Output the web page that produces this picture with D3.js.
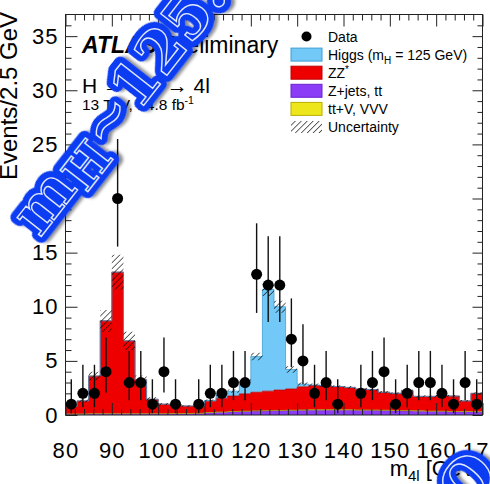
<!DOCTYPE html>
<html><head><meta charset="utf-8">
<script src="https://cdn.jsdelivr.net/npm/d3@7/dist/d3.min.js"></script>
<style>body{margin:0;background:#fff;} svg{display:block;}</style>
</head><body>
<svg id="c" width="490" height="484"></svg>
<script>
// ---------- data ----------
const binLow = [80,82.5,85,87.5,90,92.5,95,97.5,100,102.5,105,107.5,110,112.5,115,117.5,120,122.5,125,127.5,130,132.5,135,137.5,140,142.5,145,147.5,150,152.5,155,157.5,160,162.5,165,167.5];
const binWidth = 2.5;
const dataCounts = [1,2,2,4,20,3,3,1,4,1,0,1,2,2,3,3,13,12,12,7,5,2,3,1,0,2,3,4,1,2,3,3,2,1,3,1];
const dataLow  = [0.17,0.71,0.71,2.09,15.56,1.37,1.37,0.17,2.09,0.17,0,0.17,0.71,0.71,1.37,1.37,9.43,8.59,8.59,4.42,2.84,0.71,1.37,0.17,0,0.71,1.37,2.09,0.17,0.71,1.37,1.37,0.71,0.17,1.37,0.17];
const dataHigh = [3.30,4.64,4.64,7.16,25.50,5.92,5.92,3.30,7.16,3.30,0,3.30,4.64,4.64,5.92,5.92,17.71,16.52,16.52,10.77,8.38,4.64,5.92,3.30,0,4.64,5.92,7.16,3.30,4.64,5.92,5.92,4.64,3.30,5.92,3.30];
const zjets = [0.08,0.08,0.1,0.1,0.1,0.1,0.1,0.1,0.1,0.12,0.13,0.15,0.2,0.25,0.3,0.33,0.36,0.38,0.4,0.42,0.44,0.45,0.45,0.45,0.44,0.42,0.42,0.4,0.38,0.36,0.35,0.33,0.32,0.3,0.3,0.28];
const ttv   = [0.01,0.01,0.01,0.01,0.01,0.01,0.01,0.01,0.01,0.01,0.01,0.01,0.02,0.02,0.02,0.02,0.02,0.02,0.02,0.02,0.02,0.04,0.04,0.04,0.04,0.04,0.04,0.04,0.04,0.04,0.04,0.03,0.03,0.03,0.03,0.03];
const zz    = [0.71,1.21,3.49,8.59,13.09,6.74,3.14,1.34,0.89,0.82,0.69,0.67,1.06,1.28,1.43,1.60,1.72,1.80,1.88,1.96,2.14,2.23,2.19,2.14,2.07,1.94,1.89,1.66,1.58,1.85,1.33,1.36,1.45,1.42,0.97,1.69];
const higgs = [0,0,0,0,0,0,0,0,0,0,0,0,0.05,0.3,0.45,1.15,3.3,9.4,7.7,1.8,0.25,0.05,0.02,0,0,0,0,0,0,0,0,0,0,0,0,0];
const uncert = [0.1,0.15,0.4,1.0,1.6,0.85,0.4,0.18,0.12,0.1,0.08,0.08,0.1,0.12,0.15,0.2,0.35,0.6,0.55,0.3,0.15,0.13,0.13,0.13,0.12,0.12,0.12,0.11,0.1,0.11,0.1,0.1,0.1,0.1,0.08,0.1];
const xTicks = [80,90,100,110,120,130,140,150,160,170];
const yTicks = [0,5,10,15,20,25,30,35];
const legendLabels = ["Data","Higgs","ZZ*","Z+jets, tt","tt+V, VVV","Uncertainty"];

// ---------- setup ----------
const svg = d3.select("#c");
const FONT = "'Liberation Sans', Arial, Helvetica, sans-serif";
const x = d3.scaleLinear().domain([80,170]).range([65.5,482.5]);
const y = d3.scaleLinear().domain([0,37]).range([415,14.5]);
const colors = {zjets:"#8a3cf6", ttv:"#ece61a", zz:"#ee0000", higgs:"#72c9f7"};
const strokes = {zjets:"#6a22d0", ttv:"#b8ae00", zz:"#c00000", higgs:"#3f9fd6"};

const defs = svg.append("defs");
const pat = defs.append("pattern").attr("id","hatch").attr("patternUnits","userSpaceOnUse")
  .attr("width",4.2).attr("height",4.2).attr("patternTransform","rotate(45)");
pat.append("line").attr("x1",0).attr("y1",0).attr("x2",0).attr("y2",4.2)
  .attr("stroke","#000").attr("stroke-width",1.2);
const sh = defs.append("filter").attr("id","shadow").attr("x","-20%").attr("y","-20%").attr("width","140%").attr("height","140%");
sh.append("feDropShadow").attr("dx",2.5).attr("dy",3).attr("stdDeviation",1.6).attr("flood-color","#000").attr("flood-opacity",0.45);

// stacked table
const table = binLow.map((b,i)=>({lo:b, zjets:zjets[i], ttv:ttv[i], zz:zz[i], higgs:higgs[i]}));
const keys = ["zjets","ttv","zz","higgs"];
const series = d3.stack().keys(keys)(table);

function stepPts(arr){
  const pts=[];
  arr.forEach(d=>{pts.push({x:d.lo,y0:d.y0,y1:d.y1}); pts.push({x:d.lo+binWidth,y0:d.y0,y1:d.y1});});
  return pts;
}
const area = d3.area().x(d=>x(d.x)).y0(d=>y(d.y0)).y1(d=>y(d.y1));
const line = d3.line().x(d=>x(d.x)).y(d=>y(d.y1));
const g = svg.append("g");
series.forEach(s=>{
  const pts = stepPts(s.map((v,i)=>({lo:binLow[i], y0:v[0], y1:v[1]})));
  g.append("path").attr("d",area(pts)).attr("fill",colors[s.key]);
});
series.forEach(s=>{
  const pts = stepPts(s.map((v,i)=>({lo:binLow[i], y0:v[0], y1:v[1]})));
  g.append("path").attr("d",line(pts)).attr("fill","none").attr("stroke",strokes[s.key]).attr("stroke-width",0.8);
});
const totals = binLow.map((b,i)=>zjets[i]+ttv[i]+zz[i]+higgs[i]);
const bandPts = stepPts(binLow.map((b,i)=>({lo:b, y0:totals[i]-uncert[i], y1:totals[i]+uncert[i]})));
g.append("path").attr("d",area(bandPts)).attr("fill","url(#hatch)");

// ---------- axes ----------
const minorX = d3.range(80,170.01,2).filter(v=>v%10!==0);
const minorY = d3.range(0,37,1).filter(v=>v%5!==0);
function styleAxis(sel){ sel.select(".domain").remove(); sel.selectAll("line").attr("stroke","#222").attr("stroke-width",1); sel.selectAll("text").attr("font-family",FONT).attr("font-size",22).attr("fill","#000"); }
svg.append("g").attr("transform","translate(0,415)").call(d3.axisBottom(x).tickValues(xTicks).tickSize(-12).tickPadding(27).tickFormat(d3.format("d"))).call(styleAxis)
  .selectAll("text").attr("letter-spacing",1.2);
svg.append("g").attr("transform","translate(0,415)").call(d3.axisBottom(x).tickValues(minorX).tickSize(-6).tickFormat("")).call(styleAxis);
svg.append("g").attr("transform","translate(0,14.5)").call(d3.axisTop(x).tickValues(xTicks).tickSize(-12).tickFormat("")).call(styleAxis);
svg.append("g").attr("transform","translate(0,14.5)").call(d3.axisTop(x).tickValues(minorX).tickSize(-6).tickFormat("")).call(styleAxis);
svg.append("g").attr("transform","translate(65.5,0)").call(d3.axisLeft(y).tickValues(yTicks).tickSize(-12).tickPadding(7).tickFormat(d3.format("d"))).call(styleAxis)
  .selectAll("text").attr("letter-spacing",1);
svg.append("g").attr("transform","translate(65.5,0)").call(d3.axisLeft(y).tickValues(minorY).tickSize(-6).tickFormat("")).call(styleAxis);
svg.append("g").attr("transform","translate(482.5,0)").call(d3.axisRight(y).tickValues(yTicks).tickSize(-10).tickFormat("")).call(styleAxis);
svg.append("g").attr("transform","translate(482.5,0)").call(d3.axisRight(y).tickValues(minorY).tickSize(-5).tickFormat("")).call(styleAxis);
svg.append("rect").attr("x",65.5).attr("y",14.5).attr("width",417).attr("height",400.5).attr("fill","none").attr("stroke","#222").attr("stroke-width",1);

// ---------- data points ----------
const dg = svg.append("g");
binLow.forEach((b,i)=>{
  if(dataCounts[i]<=0) return;
  const cx = x(b+binWidth/2);
  dg.append("line").attr("x1",cx).attr("x2",cx).attr("y1",y(dataLow[i])).attr("y2",y(dataHigh[i])).attr("stroke","#111").attr("stroke-width",1.4);
  dg.append("circle").attr("cx",cx).attr("cy",y(dataCounts[i])).attr("r",5.5).attr("fill","#000");
});

// ---------- labels ----------
svg.append("text").attr("transform","translate(17,180) rotate(-90)").attr("font-family",FONT).attr("font-size",24).text("Events/2.5 GeV");
const xl = svg.append("text").attr("x",482).attr("y",476).attr("text-anchor","end").attr("font-family",FONT).attr("font-size",22);
xl.append("tspan").text("m");
xl.append("tspan").attr("font-size",15).attr("dy",5).text("4l");
xl.append("tspan").attr("dy",-5).text(" [GeV]");

const t1 = svg.append("text").attr("x",82).attr("y",53).attr("font-family",FONT).attr("font-size",23);
t1.append("tspan").attr("font-weight","bold").attr("font-style","italic").text("ATLAS");
t1.append("tspan").text(" Preliminary");
const t2 = svg.append("text").attr("x",82).attr("y",93).attr("font-family",FONT).attr("font-size",21);
t2.append("tspan").text("H → ZZ");
t2.append("tspan").attr("font-size",14).attr("dy",-8).text("*");
t2.append("tspan").attr("dy",8).text(" → 4l");
const t3 = svg.append("text").attr("x",82).attr("y",110).attr("font-family",FONT).attr("font-size",15.5);
t3.append("tspan").text("13 TeV, 14.8 fb");
t3.append("tspan").attr("font-size",10.5).attr("dy",-6).text("-1");

// ---------- legend ----------
const lg = svg.append("g").attr("font-family",FONT).attr("font-size",14);
const rowY = [36.5,54.6,72.7,90.8,108.9,127];
lg.append("circle").attr("cx",306.5).attr("cy",rowY[0]).attr("r",5).attr("fill","#000");
const boxKeys = ["higgs","zz","zjets","ttv"];
boxKeys.forEach((k,j)=>{
  lg.append("rect").attr("x",291).attr("y",rowY[j+1]-6.5).attr("width",31).attr("height",13)
    .attr("fill",colors[k]).attr("stroke",strokes[k]).attr("stroke-width",1);
});
lg.append("rect").attr("x",291).attr("y",rowY[5]-6).attr("width",31).attr("height",12).attr("fill","url(#hatch)");
legendLabels.forEach((t,j)=>{
  const tx = lg.append("text").attr("x",328).attr("y",rowY[j]+5);
  if(j===1){ tx.append("tspan").text("Higgs (m"); tx.append("tspan").attr("font-size",10).attr("dy",4).text("H"); tx.append("tspan").attr("dy",-4).text(" = 125 GeV)"); }
  else if(j===2){ tx.append("tspan").text("ZZ"); tx.append("tspan").attr("font-size",10).attr("dy",-5).text("*"); }
  else tx.text(t);
});

// ---------- overlay ----------
const OVF = "'DejaVu Serif', serif";
const ov = svg.append("g").attr("transform","translate(40,238) rotate(-52)");
function ovText(sel){
  sel.append("tspan").text("m");
  sel.append("tspan").attr("font-size",48).attr("dy",9).text("H");
  sel.append("tspan").attr("dy",-9).text("~125.");
}
const o1 = ov.append("text").attr("font-family",OVF).attr("font-weight","bold").attr("font-size",59).attr("letter-spacing",1)
  .attr("fill","#0b3cf2").attr("stroke","#0b3cf2").attr("stroke-width",13).attr("stroke-linejoin","round").attr("filter","url(#shadow)");
ovText(o1);
const o2 = ov.append("text").attr("font-family",OVF).attr("font-weight","bold").attr("font-size",59).attr("letter-spacing",1)
  .attr("fill","#0b3cf2").attr("stroke","#dfe8ff").attr("stroke-width",1.4);
ovText(o2);
const ov2 = svg.append("g").attr("transform","translate(466,514) rotate(-49)");
ov2.append("text").attr("font-family",OVF).attr("font-weight","bold").attr("font-size",60)
  .attr("fill","#0b3cf2").attr("stroke","#0b3cf2").attr("stroke-width",12).attr("stroke-linejoin","round").attr("filter","url(#shadow)").text("O");
ov2.append("text").attr("font-family",OVF).attr("font-weight","bold").attr("font-size",60)
  .attr("fill","#0b3cf2").attr("stroke","#dfe8ff").attr("stroke-width",1.4).text("O");
</script>
</body></html>
